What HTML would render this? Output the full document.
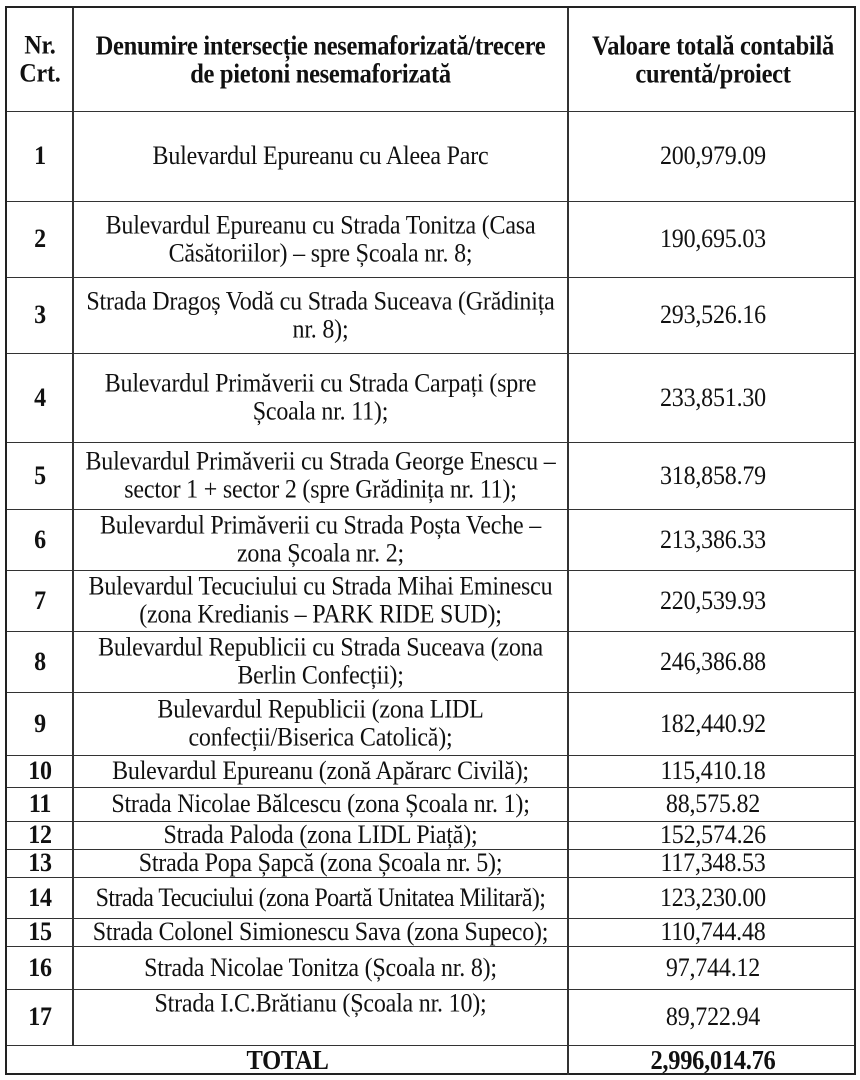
<!DOCTYPE html>
<html><head><meta charset="utf-8"><style>
body{margin:0;width:860px;height:1080px;background:#fff;overflow:hidden;font-family:"Liberation Serif",serif;color:#111}
.t{position:absolute;left:5px;top:6px;width:851px;border:2px solid #222;box-sizing:border-box}
.r{position:absolute;left:0;width:100%;border-top:1.5px solid #333;box-sizing:border-box}
.c{position:absolute;top:0;bottom:0;display:flex;align-items:center;justify-content:center;text-align:center;font-size:24px;line-height:25px;letter-spacing:-0.2px;white-space:nowrap;transform:scaleY(1.12)}
.a{left:0;width:66px;font-weight:bold}
.b{left:66px;width:495px}
.v{left:561px;width:290px}
.h{font-weight:bold;font-size:24.5px;letter-spacing:-0.3px}
.vl{position:absolute;top:0;width:1.5px;background:#333}
</style></head><body>
<div class="t" style="height:1069px">
<div class="vl" style="left:65px;height:1038px"></div>
<div class="vl" style="left:560px;height:1067px"></div>
<div class="r" style="top:0;height:103px;border-top:none"><div class="c a">Nr.<br>Crt.</div><div class="c b h">Denumire intersecție nesemaforizată/trecere<br>de pietoni nesemaforizată</div><div class="c v h">Valoare totală contabilă<br>curentă/proiect</div></div>
<div class="r" style="top:103px;height:90px"><div class="c a">1</div><div class="c b">Bulevardul Epureanu cu Aleea Parc</div><div class="c v">200,979.09</div></div>
<div class="r" style="top:193px;height:76px"><div class="c a">2</div><div class="c b">Bulevardul Epureanu cu Strada Tonitza (Casa<br>Căsătoriilor) – spre Școala nr. 8;</div><div class="c v">190,695.03</div></div>
<div class="r" style="top:269px;height:76px"><div class="c a">3</div><div class="c b">Strada Dragoș Vodă cu Strada Suceava (Grădinița<br>nr. 8);</div><div class="c v">293,526.16</div></div>
<div class="r" style="top:345px;height:89px"><div class="c a">4</div><div class="c b">Bulevardul Primăverii cu Strada Carpați (spre<br>Școala nr. 11);</div><div class="c v">233,851.30</div></div>
<div class="r" style="top:434px;height:67px"><div class="c a">5</div><div class="c b">Bulevardul Primăverii cu Strada George Enescu –<br>sector 1 + sector 2 (spre Grădinița nr. 11);</div><div class="c v">318,858.79</div></div>
<div class="r" style="top:501px;height:61px"><div class="c a">6</div><div class="c b">Bulevardul Primăverii cu Strada Poșta Veche –<br>zona Școala nr. 2;</div><div class="c v">213,386.33</div></div>
<div class="r" style="top:562px;height:61px"><div class="c a">7</div><div class="c b">Bulevardul Tecuciului cu Strada Mihai Eminescu<br>(zona Kredianis – PARK RIDE SUD);</div><div class="c v">220,539.93</div></div>
<div class="r" style="top:623px;height:61px"><div class="c a">8</div><div class="c b">Bulevardul Republicii cu Strada Suceava (zona<br>Berlin Confecții);</div><div class="c v">246,386.88</div></div>
<div class="r" style="top:684px;height:63px"><div class="c a">9</div><div class="c b">Bulevardul Republicii (zona LIDL<br>confecții/Biserica Catolică);</div><div class="c v">182,440.92</div></div>
<div class="r" style="top:747px;height:32px"><div class="c a">10</div><div class="c b">Bulevardul Epureanu (zonă Apărarc Civilă);</div><div class="c v">115,410.18</div></div>
<div class="r" style="top:779px;height:34px"><div class="c a">11</div><div class="c b">Strada Nicolae Bălcescu (zona Școala nr. 1);</div><div class="c v">88,575.82</div></div>
<div class="r" style="top:813px;height:28px"><div class="c a">12</div><div class="c b">Strada Paloda (zona LIDL Piață);</div><div class="c v">152,574.26</div></div>
<div class="r" style="top:841px;height:28px"><div class="c a">13</div><div class="c b">Strada Popa Șapcă (zona Școala nr. 5);</div><div class="c v">117,348.53</div></div>
<div class="r" style="top:869px;height:41px"><div class="c a">14</div><div class="c b" style="letter-spacing:-0.6px">Strada Tecuciului (zona Poartă Unitatea Militară);</div><div class="c v">123,230.00</div></div>
<div class="r" style="top:910px;height:28px"><div class="c a">15</div><div class="c b">Strada Colonel Simionescu Sava (zona Supeco);</div><div class="c v">110,744.48</div></div>
<div class="r" style="top:938px;height:43px"><div class="c a">16</div><div class="c b">Strada Nicolae Tonitza (Școala nr. 8);</div><div class="c v">97,744.12</div></div>
<div class="r" style="top:981px;height:56px"><div class="c a">17</div><div class="c b" style="align-items:flex-start;padding-top:3px">Strada I.C.Brătianu (Școala nr. 10);</div><div class="c v">89,722.94</div></div>
<div class="r" style="top:1037px;height:30px"><div class="c h" style="left:0;width:561px">TOTAL</div><div class="c v h">2,996,014.76</div></div>
</div>
</body></html>
